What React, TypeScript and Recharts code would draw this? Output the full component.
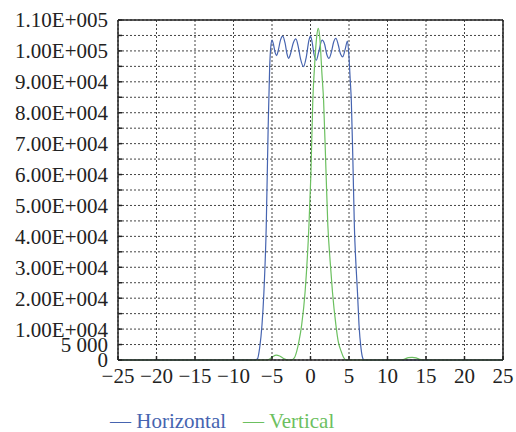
import {
  CartesianGrid,
  Legend,
  Line,
  LineChart,
  ReferenceLine,
  XAxis,
  YAxis,
} from "recharts";

const FONT = "'Liberation Serif', 'Times New Roman', serif";
const BLUE = "#4664b0";
const GREEN = "#6cc060";

// Horizontal profile
const hX = [
  -25, -7.2, -6.9, -6.6, -6.3, -6.05, -5.75, -5.5, -5.3, -5.15, -5.0, -4.8, -4.6, -4.4,
  -4.2, -3.9, -3.6, -3.3, -3.05, -2.85, -2.6, -2.25, -1.9, -1.6, -1.3, -0.9, -0.55, -0.2,
  0, 0.2, 0.45, 0.75, 1.05, 1.5, 1.85, 2.1, 2.4, 2.7, 3.0, 3.3, 3.6, 3.9, 4.2, 4.5, 4.8,
  5.0, 5.15, 5.3, 5.5, 5.7, 5.9, 6.1, 6.3, 6.55, 6.8, 7.0, 25,
];
const hY = [
  0, 0, 300, 4000, 11300, 22000, 43000, 75000, 95000, 101500, 103500, 102000, 99500, 98500,
  100000, 103500, 104800, 102500, 99000, 97600, 99000, 102500, 103900, 101500, 97500, 94900, 98000, 103500,
  104800, 103000, 99000, 97000, 99500, 103500, 102000, 99000, 97600, 99500, 102800, 104100, 102000, 99000, 98100, 100500, 103200,
  98000, 91000, 84000, 65000, 43000, 31000, 22000, 11300, 4000, 500, 0, 0,
];

// Vertical profile
const vX = [
  -25, -5.7, -5.3, -4.9, -4.45, -4.0, -3.5, -3.0, -2.5, -2.1, -1.8, -1.5, -1.15, -0.7, -0.2,
  0.05, 0.3, 0.55, 0.8, 1.0, 1.2, 1.5, 1.7, 2.0, 2.25, 2.55, 2.85, 3.3, 3.6, 4.0, 4.3, 4.6,
  11.8, 12.3, 12.7, 13.2, 13.7, 14.1, 14.5, 25,
];
const vY = [
  0, 0, 300, 1100, 1600, 1300, 500, 0, 0, 700, 2700, 6000, 11300, 22100, 43700,
  60000, 84000, 96000, 104500, 107300, 104500, 92000, 84000, 62000, 43700, 32000, 22100, 11300, 6000, 2700, 800, 0,
  0, 400, 750, 870, 700, 300, 0, 0,
];

const xTicks = [-25, -20, -15, -10, -5, 0, 5, 10, 15, 20, 25];
const yTicks = Array.from({ length: 23 }, (_, i) => i * 5000);

const hData = hX.map((x, i) => ({ x, h: hY[i] }));
const vData = vX.map((x, i) => ({ x, v: vY[i] }));

function fmtX(v: number): string {
  return v < 0 ? `\u2212${Math.abs(v)}` : `${v}`;
}

function fmtY(v: number): string {
  if (v === 0) return "0";
  if (v === 5000) return "5 000";
  if (v % 10000 !== 0) return "";
  const exp = Math.floor(Math.log10(v));
  const mant = (v / Math.pow(10, exp)).toFixed(2);
  return `${mant}E+${String(exp).padStart(3, "0")}`;
}

function LegendBox() {
  return (
    <div
      style={{
        fontFamily: FONT,
        fontSize: 21,
        display: "flex",
        gap: 17,
        whiteSpace: "nowrap",
      }}
    >
      <span style={{ color: BLUE }}>{"\u2014 Horizontal"}</span>
      <span style={{ color: GREEN }}>{"\u2014 Vertical"}</span>
    </div>
  );
}

export default function App() {
  return (
    <div style={{ position: "absolute", left: 0, top: 0, width: 516, height: 432, background: "#fff" }}>
      <LineChart width={516} height={432} margin={{ top: 20, right: 13, bottom: 17, left: 0 }}>
        <CartesianGrid stroke="#444" strokeDasharray="2 2" strokeWidth={1} />
        <XAxis
          type="number"
          dataKey="x"
          domain={[-25, 25]}
          ticks={xTicks}
          interval={0}
          tickFormatter={fmtX}
          allowDuplicatedCategory={false}
          height={30}
          tickSize={-4}
          tickMargin={12}
          stroke="#222"
          strokeWidth={1.5}
          tick={{ fontFamily: FONT, fontSize: 21, fill: "#222" }}
        />
        <YAxis
          type="number"
          domain={[0, 110000]}
          ticks={yTicks}
          interval={0}
          tickFormatter={fmtY}
          width={118}
          tickSize={-4}
          tickMargin={14}
          stroke="#222"
          strokeWidth={1.5}
          tick={{ fontFamily: FONT, fontSize: 21, fill: "#222" }}
        />
        <ReferenceLine y={110000} stroke="#222" strokeWidth={1.5} />
        <ReferenceLine x={25} stroke="#222" strokeWidth={1.5} />
        <Line
          data={hData}
          dataKey="h"
          type="monotone"
          stroke={BLUE}
          strokeWidth={1.2}
          dot={false}
          isAnimationActive={false}
        />
        <Line
          data={vData}
          dataKey="v"
          type="monotone"
          stroke={GREEN}
          strokeWidth={1.2}
          dot={false}
          isAnimationActive={false}
        />
        <Legend
          content={<LegendBox />}
          wrapperStyle={{ position: "absolute", left: 110, top: 409, width: "auto" }}
        />
      </LineChart>
    </div>
  );
}
